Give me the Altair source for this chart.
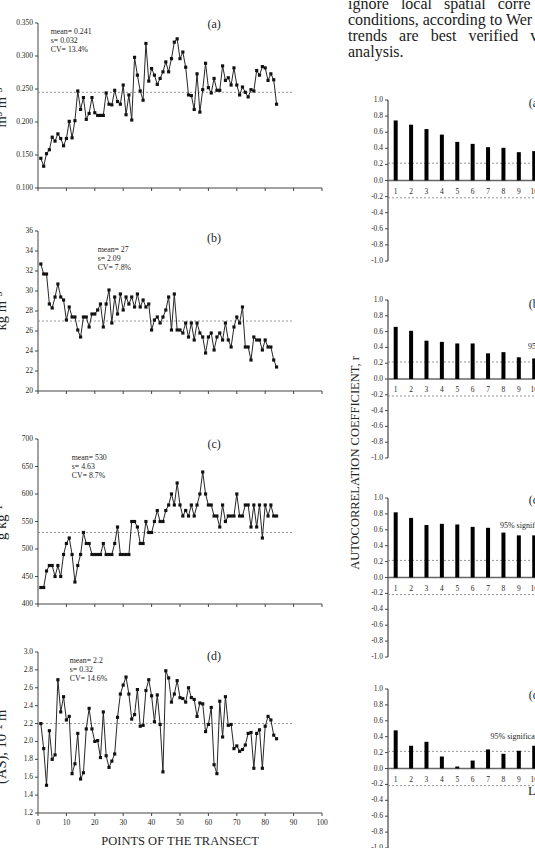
import altair as alt
import pandas as pd

FONT = "Liberation Serif"
INK = "#262626"
AXIS_C = "#444444"
DASH_C = "#8a8a8a"

# ---------------- data ----------------
POINTS = list(range(1, 85))

SERIES_A = [0.145, 0.133, 0.152, 0.158, 0.177, 0.171, 0.182, 0.175, 0.164, 0.175,
            0.201, 0.176, 0.202, 0.247, 0.219, 0.237, 0.204, 0.213, 0.237, 0.214,
            0.210, 0.210, 0.210, 0.244, 0.227, 0.226, 0.248, 0.231, 0.227, 0.256,
            0.211, 0.241, 0.203, 0.298, 0.271, 0.247, 0.233, 0.319, 0.262, 0.281,
            0.271, 0.257, 0.266, 0.276, 0.291, 0.276, 0.296, 0.321, 0.326, 0.296,
            0.306, 0.283, 0.241, 0.240, 0.219, 0.273, 0.215, 0.249, 0.289, 0.252,
            0.244, 0.266, 0.248, 0.248, 0.285, 0.263, 0.267, 0.256, 0.282, 0.256,
            0.241, 0.253, 0.245, 0.238, 0.249, 0.247, 0.278, 0.271, 0.284, 0.282,
            0.263, 0.273, 0.264, 0.227]

SERIES_B = [32.7, 31.7, 31.7, 28.7, 28.3, 29.4, 30.7, 29.4, 29.1, 27.1,
            28.4, 27.4, 27.4, 26.1, 25.4, 27.4, 27.4, 26.4, 27.7, 27.7,
            28.1, 28.7, 26.4, 28.7, 30.1, 26.8, 29.4, 27.7, 29.7, 28.1,
            29.4, 28.7, 29.4, 28.4, 29.7, 28.4, 29.1, 28.4, 28.7, 26.1,
            27.1, 27.4, 26.8, 27.4, 28.1, 29.4, 26.1, 29.7, 26.1, 26.1,
            25.8, 26.8, 25.4, 26.8, 25.1, 26.8, 25.8, 25.4, 23.8, 25.4,
            25.8, 24.1, 25.4, 25.8, 25.1, 26.8, 25.1, 24.4, 26.4, 27.4,
            26.8, 28.4, 24.4, 24.4, 23.1, 25.4, 25.1, 25.1, 24.1, 25.1,
            24.4, 24.4, 23.1, 22.4]

SERIES_C = [430, 430, 460, 470, 470, 450, 470, 450, 490, 510,
            520, 490, 440, 470, 490, 530, 510, 510, 490, 490,
            490, 490, 510, 490, 490, 490, 510, 540, 490, 490,
            490, 490, 550, 550, 540, 510, 510, 550, 530, 530,
            550, 570, 550, 550, 570, 580, 600, 580, 620, 580,
            560, 570, 560, 580, 560, 580, 600, 640, 600, 580,
            580, 560, 560, 540, 580, 550, 560, 560, 560, 600,
            560, 560, 580, 580, 540, 580, 540, 580, 520, 580,
            560, 580, 560, 560]

SERIES_D = [2.20, 1.92, 1.51, 2.12, 1.80, 1.85, 2.69, 2.33, 2.50, 2.24,
            2.28, 1.64, 1.75, 2.09, 1.58, 1.65, 2.14, 2.37, 2.14, 2.00,
            2.01, 1.82, 2.33, 1.84, 1.71, 1.78, 1.86, 2.27, 2.53, 2.63,
            2.72, 2.53, 2.25, 2.30, 2.58, 2.17, 2.18, 2.57, 2.69, 2.51,
            2.22, 2.52, 2.19, 1.66, 2.79, 2.71, 2.44, 2.53, 2.68, 2.49,
            2.48, 2.44, 2.60, 2.49, 2.47, 2.28, 2.43, 2.42, 2.11, 2.19,
            2.38, 1.74, 1.64, 2.45, 2.05, 2.50, 2.18, 2.19, 1.92, 1.95,
            1.89, 1.91, 1.96, 2.09, 2.10, 1.70, 2.09, 2.13, 1.70, 2.17,
            2.28, 2.24, 2.07, 2.03]

MEAN_LINES = [0.245, 27.0, 530, 2.20]
STATS = [["mean= 0.241", "s= 0.032", "CV= 13.4%"],
         ["mean= 27", "s= 2.09", "CV= 7.8%"],
         ["mean= 530", "s= 4.63", "CV= 8.7%"],
         ["mean= 2.2", "s= 0.32", "CV= 14.6%"]]
PANEL_LABELS = ["(a)", "(b)", "(c)", "(d)"]
Y_TITLES = ["m³ m⁻³", "kg m⁻³", "g kg⁻¹", "(AS), 10⁻² m"]
Y_DOMAINS = [[0.100, 0.350], [20, 36], [400, 700], [1.2, 3.0]]
Y_TICKS = [[0.100, 0.150, 0.200, 0.250, 0.300, 0.350],
           [20, 22, 24, 26, 28, 30, 32, 34, 36],
           [400, 450, 500, 550, 600, 650, 700],
           [1.2, 1.4, 1.6, 1.8, 2.0, 2.2, 2.4, 2.6, 2.8, 3.0]]
Y_TICK_LABELS = [["0.100", "0.150", "0.200", "0.250", "0.300", "0.350"],
                 ["20", "22", "24", "26", "28", "30", "32", "34", "36"],
                 ["400", "450", "500", "550", "600", "650", "700"],
                 ["1.2", "1.4", "1.6", "1.8", "2.0", "2.2", "2.4", "2.6", "2.8", "3.0"]]
X_TICKS = [0, 10, 20, 30, 40, 50, 60, 70, 80, 90, 100]
X_TITLE = "POINTS OF THE TRANSECT"

LAGS = [1, 2, 3, 4, 5, 6, 7, 8, 9, 10]
AC_A = [0.746, 0.693, 0.639, 0.570, 0.480, 0.455, 0.414, 0.406, 0.352, 0.365]
AC_B = [0.66, 0.61, 0.485, 0.47, 0.45, 0.45, 0.325, 0.34, 0.275, 0.26]
AC_C = [0.82, 0.75, 0.66, 0.675, 0.667, 0.637, 0.625, 0.565, 0.53, 0.53]
AC_D = [0.48, 0.286, 0.336, 0.151, 0.025, 0.10, 0.24, 0.185, 0.223, 0.286]
SIG_LEVELS = [0.215, -0.215]
R_TICKS = [-1.0, -0.8, -0.6, -0.4, -0.2, 0.0, 0.2, 0.4, 0.6, 0.8, 1.0]
R_TICK_LABELS = ["-1.0", "-0.8", "-0.6", "-0.4", "-0.2", "0.0", "0.2", "0.4", "0.6", "0.8", "1.0"]
R_TITLE = "AUTOCORRELATION COEFFICIENT, r"
SIG_TEXT = "95% significance"
LAG_TITLE = "LAG"

PARAGRAPH = ["ignore\u00a0\u00a0 local\u00a0\u00a0 spatial\u00a0\u00a0 corre",
             "conditions, according to Wer",
             "trends\u00a0\u00a0 are\u00a0\u00a0 best\u00a0\u00a0 verified\u00a0\u00a0 v",
             "analysis."]

# ---------------- layout (pixels) ----------------
CANVAS_W, CANVAS_H = 535, 848
LEFT_X_RANGE = [38, 322]
LEFT_Y_RANGES = [[188, 23], [391, 231], [604, 439], [813, 652]]
RIGHT_X_RANGE = [388, 535]
RIGHT_Y_RANGES = [[261, 100], [458, 300], [657, 498], [848, 689]]
LAG_DOMAIN = [0.5, 10.05]

# annotation anchors in data units
STATS_AT = [(4.5, 0.3424), (21.0, 34.5), (11.9, 672.7), (11.2, 2.947)]
LABEL_AT = [(62, 0.3485), (62, 35.3), (62, 691), (62, 2.96)]
Y_TITLE_AT = [(-11.1, 0.222), (-11.1, 28.0), (-11.1, 548), (-11.1, 1.94)]
R_LABEL_Y = [0.96, 0.95, 0.97, 0.93]
SIG_TEXT_AT = [None, (9.59, 0.41), (7.77, 0.65), (7.16, 0.40)]
R_TITLE_AT = (-1.38, -1.063)   # in panel (b) units


def one():
    return pd.DataFrame({"a": [0]})


def xd(v, s):
    return alt.XDatum(v, scale=s, axis=None)


def yd(v, s):
    return alt.YDatum(v, scale=s, axis=None)


def y_axis(xs, ys, x_at, dom, ticks, labels, dcolor=AXIS_C, dwidth=1.0):
    tdf = pd.DataFrame({"v": ticks, "t": labels})
    dom_line = alt.Chart(one()).mark_rule(color=dcolor, strokeWidth=dwidth).encode(
        x=xd(x_at, xs), y=yd(dom[0], ys), y2=alt.Y2Datum(dom[1]))
    tk = alt.Chart(tdf).mark_rule(color=AXIS_C, strokeWidth=1, x2Offset=-3).encode(
        x=xd(x_at, xs), x2=alt.X2Datum(x_at), y=alt.Y("v:Q", scale=ys, axis=None))
    lb = alt.Chart(tdf).mark_text(align="right", baseline="middle", dx=-5, font=FONT,
                                  fontSize=7.5, color=INK).encode(
        x=xd(x_at, xs), y=alt.Y("v:Q", scale=ys, axis=None), text="t:N")
    return [dom_line, tk, lb]


def left_panel(k, values, last):
    ybot, ytop = LEFT_Y_RANGES[k]
    dom = Y_DOMAINS[k]
    xs = alt.Scale(domain=[0, 100], range=LEFT_X_RANGE, nice=False, zero=False)
    ys = alt.Scale(domain=dom, range=[ybot, ytop], nice=False, zero=False)
    layers = y_axis(xs, ys, 0, dom, Y_TICKS[k], Y_TICK_LABELS[k])
    xdf = pd.DataFrame({"v": X_TICKS, "t": [str(v) for v in X_TICKS]})
    layers.append(alt.Chart(one()).mark_rule(color=AXIS_C, strokeWidth=1).encode(
        x=xd(0, xs), x2=alt.X2Datum(100), y=yd(dom[0], ys)))
    layers.append(alt.Chart(xdf).mark_rule(color=AXIS_C, strokeWidth=1, y2Offset=3).encode(
        x=alt.X("v:Q", scale=xs, axis=None), y=yd(dom[0], ys), y2=alt.Y2Datum(dom[0])))
    if last:
        layers.append(alt.Chart(xdf).mark_text(baseline="middle", dy=10, font=FONT,
                                               fontSize=7.5, color=INK).encode(
            x=alt.X("v:Q", scale=xs, axis=None), y=yd(dom[0], ys), text="t:N"))
        layers.append(alt.Chart(one()).mark_text(
            text=X_TITLE, baseline="alphabetic", dy=32, font=FONT, fontSize=12.5,
            color=INK).encode(x=xd(50, xs), y=yd(dom[0], ys)))
    tx, ty = Y_TITLE_AT[k]
    layers.append(alt.Chart(one()).mark_text(
        text=Y_TITLES[k], angle=270, align="center", baseline="alphabetic", font=FONT,
        fontSize=14.5, color=INK).encode(x=xd(tx, xs), y=yd(ty, ys)))
    layers.append(alt.Chart(pd.DataFrame({"m": [MEAN_LINES[k]]})).mark_rule(
        color=DASH_C, strokeDash=[2, 2], strokeWidth=0.9).encode(
        x=xd(0, xs), x2=alt.X2Datum(90), y=alt.Y("m:Q", scale=ys, axis=None)))
    df = pd.DataFrame({"point": POINTS, "value": values})
    layers.append(alt.Chart(df).mark_line(color=INK, strokeWidth=1).encode(
        x=alt.X("point:Q", scale=xs, axis=None), y=alt.Y("value:Q", scale=ys, axis=None)))
    layers.append(alt.Chart(df).mark_square(size=10, color="#111111", opacity=1).encode(
        x=alt.X("point:Q", scale=xs, axis=None), y=alt.Y("value:Q", scale=ys, axis=None)))
    sx, sy = STATS_AT[k]
    layers.append(alt.Chart(one()).mark_text(
        text=STATS[k], align="left", baseline="top", font=FONT, fontSize=7.8,
        lineHeight=9, color=INK).encode(x=xd(sx, xs), y=yd(sy, ys)))
    lx, ly = LABEL_AT[k]
    layers.append(alt.Chart(one()).mark_text(
        text=PANEL_LABELS[k], align="center", baseline="middle", font=FONT, fontSize=12,
        color=INK).encode(x=xd(lx, xs), y=yd(ly, ys)))
    return alt.layer(*layers)


def right_panel(k, values):
    ybot, ytop = RIGHT_Y_RANGES[k]
    xs = alt.Scale(domain=LAG_DOMAIN, range=RIGHT_X_RANGE, nice=False, zero=False)
    ys = alt.Scale(domain=[-1, 1], range=[ybot, ytop], nice=False, zero=False)
    x0 = LAG_DOMAIN[0]
    layers = y_axis(xs, ys, x0, [-1, 1], R_TICKS, R_TICK_LABELS, dcolor="#555555", dwidth=1.3)
    layers.append(alt.Chart(pd.DataFrame({"s": SIG_LEVELS})).mark_rule(
        color=DASH_C, strokeDash=[2, 2], strokeWidth=0.9).encode(
        x=xd(x0, xs), x2=alt.X2Datum(LAG_DOMAIN[1]), y=alt.Y("s:Q", scale=ys, axis=None)))
    layers.append(alt.Chart(one()).mark_rule(color="#666666", strokeWidth=1.5).encode(
        x=xd(x0, xs), x2=alt.X2Datum(LAG_DOMAIN[1]), y=yd(0, ys)))
    ldf = pd.DataFrame({"lag": LAGS, "t": [str(v) for v in LAGS]})
    layers.append(alt.Chart(ldf).mark_text(baseline="middle", dy=11, font=FONT, fontSize=7.5,
                                           color=INK).encode(
        x=alt.X("lag:Q", scale=xs, axis=None), y=yd(0, ys), text="t:N"))
    df = pd.DataFrame({"lag": LAGS, "r": values})
    layers.append(alt.Chart(df).mark_rule(strokeWidth=4, color="#000000", strokeCap="butt").encode(
        x=alt.X("lag:Q", scale=xs, axis=None), y=alt.Y("r:Q", scale=ys, axis=None),
        y2=alt.Y2Datum(0)))
    layers.append(alt.Chart(one()).mark_text(
        text=PANEL_LABELS[k], align="left", baseline="middle", font=FONT, fontSize=12,
        color=INK).encode(x=xd(9.65, xs), y=yd(R_LABEL_Y[k], ys)))
    if SIG_TEXT_AT[k] is not None:
        tx, ty = SIG_TEXT_AT[k]
        layers.append(alt.Chart(one()).mark_text(
            text=SIG_TEXT, align="left", baseline="middle", font=FONT, fontSize=8,
            color=INK).encode(x=xd(tx, xs), y=yd(ty, ys)))
    if k == 1:
        rx, ry = R_TITLE_AT
        layers.append(alt.Chart(one()).mark_text(
            text=R_TITLE, angle=270, align="center", baseline="alphabetic", font=FONT,
            fontSize=12.5, color=INK).encode(x=xd(rx, xs), y=yd(ry, ys)))
    if k == 3:
        layers.append(alt.Chart(one()).mark_text(
            text=LAG_TITLE, align="left", baseline="middle", font=FONT, fontSize=13,
            color=INK).encode(x=xd(9.6, xs), y=yd(-0.28, ys)))
    return alt.layer(*layers)


para = alt.Chart(pd.DataFrame({"line": [0, 1, 2, 3], "text": PARAGRAPH})).mark_text(
    align="left", baseline="alphabetic", font=FONT, fontSize=16, color="#1a1a1a").encode(
    x=alt.XDatum(0, scale=alt.Scale(domain=[0, 1], range=[348, 535]), axis=None),
    y=alt.Y("line:Q", scale=alt.Scale(domain=[0, 3], range=[9.3, 57.3], nice=False, zero=False),
            axis=None),
    text="text:N")

panels = [
    left_panel(0, SERIES_A, False),
    left_panel(1, SERIES_B, False),
    left_panel(2, SERIES_C, False),
    left_panel(3, SERIES_D, True),
    right_panel(0, AC_A),
    right_panel(1, AC_B),
    right_panel(2, AC_C),
    right_panel(3, AC_D),
    para,
]

chart = alt.layer(*panels).resolve_scale(
    x="independent", y="independent"
).properties(
    width=CANVAS_W, height=CANVAS_H,
    autosize=alt.AutoSizeParams(type="none"),
    padding=0, background="white"
).configure_view(stroke=None)

chart.save("out.html", embed_options={"renderer": "svg", "actions": False})
